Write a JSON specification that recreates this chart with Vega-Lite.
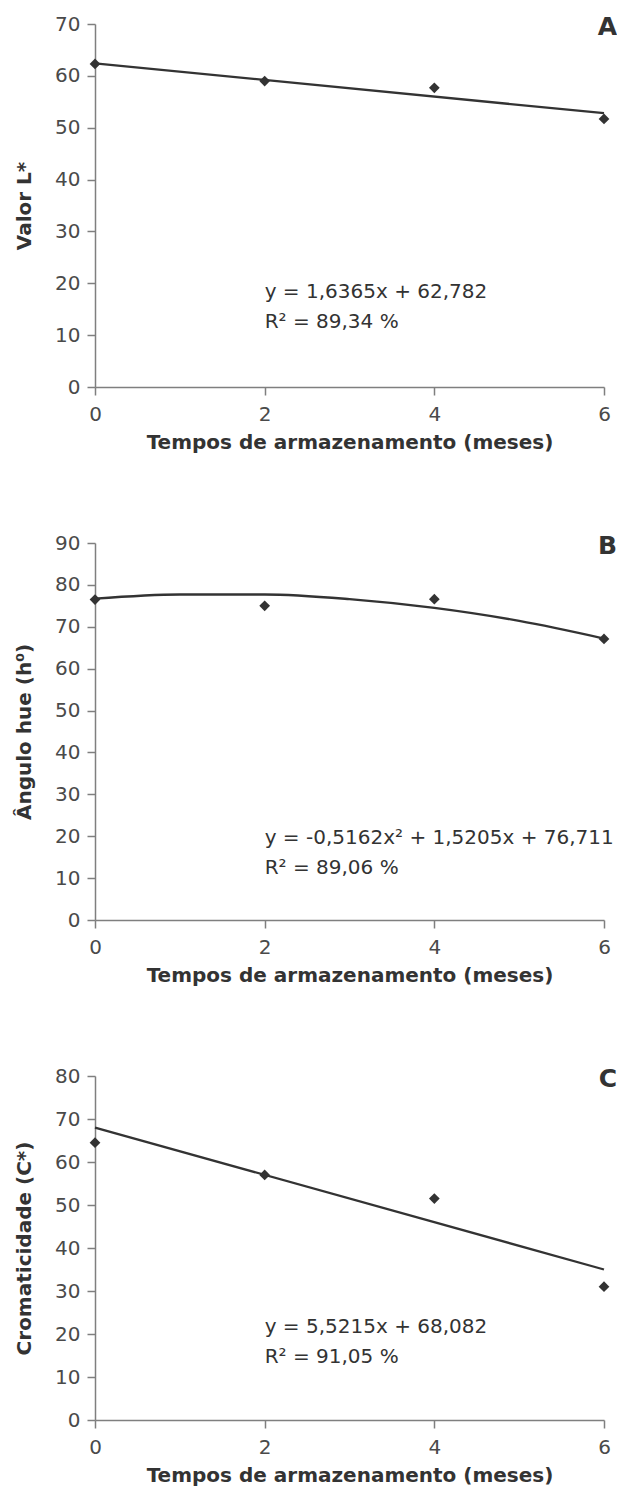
{
  "$schema": "https://vega.github.io/schema/vega-lite/v6.json",
  "padding": {"left": 14, "top": 14, "right": 0, "bottom": 10},
  "bounds": "flush",
  "spacing": 156,
  "config": {
    "font": "DejaVu Sans",
    "view": {"stroke": null},
    "axis": {
      "grid": false,
      "domainColor": "#7f7f7f",
      "domainWidth": 1.5,
      "tickColor": "#7f7f7f",
      "tickWidth": 1.5,
      "tickSize": 8,
      "labelFont": "DejaVu Sans",
      "labelFontSize": 20,
      "labelColor": "#4a4a4a",
      "titleFont": "DejaVu Sans",
      "titleFontSize": 20,
      "titleFontWeight": "bold",
      "titleColor": "#333333"
    },
    "axisX": {"labelPadding": 9.5, "titleY": 55, "titleBaseline": "middle", "labelFlush": false},
    "axisY": {"labelPadding": 7, "titleX": -71, "titleBaseline": "middle", "titleAngle": -90}
  },
  "vconcat": [
    {
      "width": 509,
      "height": 363,
      "encoding": {
        "x": {"field": "t", "type": "quantitative", "scale": {"domain": [0, 6], "nice": false}, "axis": {"values": [0, 2, 4, 6], "title": "Tempos de armazenamento (meses)"}},
        "y": {"field": "v", "type": "quantitative", "scale": {"domain": [0, 70], "nice": false}, "axis": {"values": [0, 10, 20, 30, 40, 50, 60, 70], "title": "Valor L*"}}
      },
      "layer": [
        {
          "data": {"values": [{"t": 0, "v": 62.4}, {"t": 6, "v": 52.8}]},
          "mark": {"type": "line", "color": "#333333", "strokeWidth": 2.3},
          "encoding": {}
        },
        {
          "data": {"values": [{"t": 0, "v": 62.3}, {"t": 2, "v": 59.0}, {"t": 4, "v": 57.7}, {"t": 6, "v": 51.7}]},
          "mark": {"type": "point", "shape": "diamond", "filled": true, "color": "#333333", "size": 115, "opacity": 1}
        },
        {
          "data": {"values": [{"t": 2, "v": 18.3, "label": "y = 1,6365x + 62,782"}, {"t": 2, "v": 12.5, "label": "R² = 89,34 %"}]},
          "mark": {"type": "text", "align": "left", "baseline": "middle", "fontSize": 20, "color": "#333333"},
          "encoding": {"text": {"field": "label"}}
        },
        {
          "data": {"values": [{"t": 6, "v": 70, "label": "A"}]},
          "mark": {"type": "text", "align": "right", "baseline": "middle", "fontSize": 25, "fontWeight": "bold", "dx": 13, "dy": 3, "color": "#333333"},
          "encoding": {"text": {"field": "label"}}
        }
      ]
    },
    {
      "width": 509,
      "height": 377,
      "encoding": {
        "x": {"field": "t", "type": "quantitative", "scale": {"domain": [0, 6], "nice": false}, "axis": {"values": [0, 2, 4, 6], "title": "Tempos de armazenamento (meses)"}},
        "y": {"field": "v", "type": "quantitative", "scale": {"domain": [0, 90], "nice": false}, "axis": {"values": [0, 10, 20, 30, 40, 50, 60, 70, 80, 90], "title": "Ângulo hue (h⁰)"}}
      },
      "layer": [
        {
          "data": {"values": [{"t": 0, "v": 76.7}, {"t": 1, "v": 77.7}, {"t": 2, "v": 77.7}, {"t": 3, "v": 76.6}, {"t": 4, "v": 74.5}, {"t": 5, "v": 71.4}, {"t": 6, "v": 67.2}]},
          "mark": {"type": "line", "color": "#333333", "strokeWidth": 2.3, "interpolate": "monotone"},
          "encoding": {}
        },
        {
          "data": {"values": [{"t": 0, "v": 76.5}, {"t": 2, "v": 75.0}, {"t": 4, "v": 76.6}, {"t": 6, "v": 67.1}]},
          "mark": {"type": "point", "shape": "diamond", "filled": true, "color": "#333333", "size": 115, "opacity": 1}
        },
        {
          "data": {"values": [{"t": 2, "v": 19.6, "label": "y = -0,5162x² + 1,5205x + 76,711"}, {"t": 2, "v": 12.4, "label": "R² = 89,06 %"}]},
          "mark": {"type": "text", "align": "left", "baseline": "middle", "fontSize": 20, "color": "#333333"},
          "encoding": {"text": {"field": "label"}}
        },
        {
          "data": {"values": [{"t": 6, "v": 90, "label": "B"}]},
          "mark": {"type": "text", "align": "right", "baseline": "middle", "fontSize": 25, "fontWeight": "bold", "dx": 13, "dy": 3, "color": "#333333"},
          "encoding": {"text": {"field": "label"}}
        }
      ]
    },
    {
      "width": 509,
      "height": 344,
      "encoding": {
        "x": {"field": "t", "type": "quantitative", "scale": {"domain": [0, 6], "nice": false}, "axis": {"values": [0, 2, 4, 6], "title": "Tempos de armazenamento (meses)"}},
        "y": {"field": "v", "type": "quantitative", "scale": {"domain": [0, 80], "nice": false}, "axis": {"values": [0, 10, 20, 30, 40, 50, 60, 70, 80], "title": "Cromaticidade (C*)"}}
      },
      "layer": [
        {
          "data": {"values": [{"t": 0, "v": 68.0}, {"t": 6, "v": 35.0}]},
          "mark": {"type": "line", "color": "#333333", "strokeWidth": 2.3},
          "encoding": {}
        },
        {
          "data": {"values": [{"t": 0, "v": 64.5}, {"t": 2, "v": 57.0}, {"t": 4, "v": 51.5}, {"t": 6, "v": 31.0}]},
          "mark": {"type": "point", "shape": "diamond", "filled": true, "color": "#333333", "size": 115, "opacity": 1}
        },
        {
          "data": {"values": [{"t": 2, "v": 21.6, "label": "y = 5,5215x + 68,082"}, {"t": 2, "v": 14.65, "label": "R² = 91,05 %"}]},
          "mark": {"type": "text", "align": "left", "baseline": "middle", "fontSize": 20, "color": "#333333"},
          "encoding": {"text": {"field": "label"}}
        },
        {
          "data": {"values": [{"t": 6, "v": 80, "label": "C"}]},
          "mark": {"type": "text", "align": "right", "baseline": "middle", "fontSize": 25, "fontWeight": "bold", "dx": 13, "dy": 3, "color": "#333333"},
          "encoding": {"text": {"field": "label"}}
        }
      ]
    }
  ]
}
